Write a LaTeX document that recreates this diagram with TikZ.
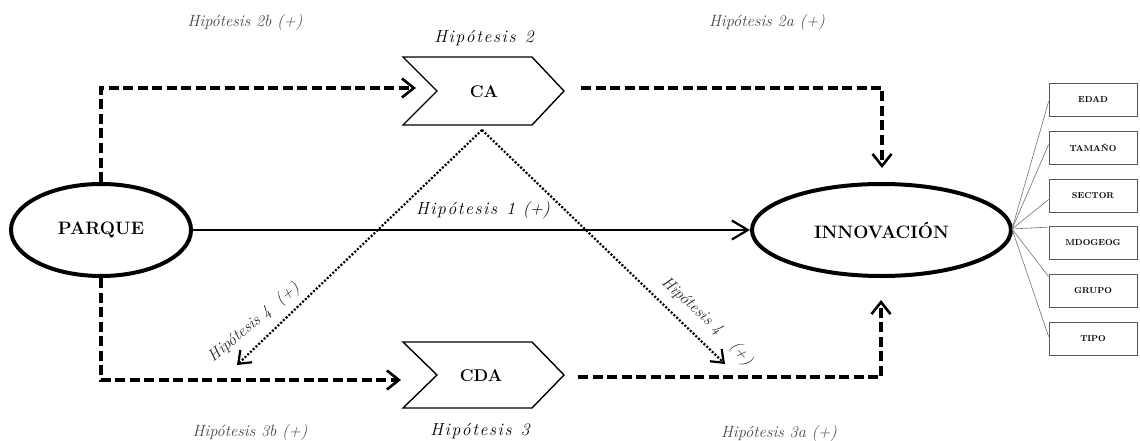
\documentclass[tikz,border=0pt]{standalone}
\usepackage{fontspec}
\usetikzlibrary{arrows.meta,shapes.geometric,calc}
\newcommand\ks{\kern1.6pt}
\begin{document}
\begin{tikzpicture}[x=1pt,y=-1pt,
  every node/.style={inner sep=0pt},
  ell/.style={ellipse, draw, line width=4pt, font=\fontsize{18}{21}\selectfont\bfseries},
  chevtext/.style={font=\fontsize{17}{20}\selectfont\bfseries},
  chevpath/.style={draw, line width=1.4pt, line join=miter},
  dashln/.style={line width=3.2pt, dash pattern=on 10pt off 4.5pt,
     -{Straight Barb[length=12pt,width=19pt,line width=2.6pt]}},
  dotln/.style={line width=2.2pt, dash pattern=on 2pt off 1.8pt,
     -{Straight Barb[length=11pt,width=17pt,line width=2.2pt]}},
  solidln/.style={line width=2.2pt, -{Straight Barb[length=16pt,width=19pt,line width=2.2pt]}},
  hyp/.style={text=black!72, font=\fontsize{16.3}{19}\selectfont\itshape},
  hypb/.style={text=black, font=\fontsize{17.5}{20}\selectfont\itshape},
  ctrl/.style={draw=black!65, line width=0.8pt, minimum width=88pt, minimum height=33pt,
     font=\fontsize{8.6}{10}\selectfont\bfseries},
  ctrlln/.style={draw=black!55, line width=0.6pt}
]
\useasboundingbox (0,0) rectangle (1140,441);

% main ellipses
\node[ell, minimum width=180pt, minimum height=92pt] (parque) at (101,230) {PARQUE};
\node[ell, minimum width=259pt, minimum height=92pt] (innov) at (881.5,230) {INNOVACIÓN};

% chevrons
\draw[chevpath] (403,57) -- (532,57) -- (564,91) -- (532,125) -- (403,125) -- (437,91) -- cycle;
\node[chevtext] (ca) at (484,92) {CA};
\draw[chevpath] (403,342) -- (532,342) -- (564,375) -- (532,408) -- (403,408) -- (437,375) -- cycle;
\node[chevtext] (cda) at (481,376) {CDA};

% connector end points
\coordinate (caIn) at (416,88);
\coordinate (caOut) at (581,88);
\coordinate (innTop) at (882,168);
\coordinate (cdaIn) at (401,380);
\coordinate (cdaOut) at (578,377);
\coordinate (innBot) at (881,300);
\coordinate (apex) at (482,130);
\coordinate (h4l) at (237,365);
\coordinate (h4r) at (725,364);

% connectors
\draw[dashln] (parque.north) |- (caIn);
\draw[dashln] (caOut) -| (innTop);
\draw[dashln] (parque.south) |- (cdaIn);
\draw[dashln] (cdaOut) -| (innBot);
\draw[solidln] (parque.east) -- (innov.west);
\draw[dotln] (apex) -- (h4l);
\draw[dotln] (apex) -- (h4r);

% labels
\node[hyp] (l2b) at (245,22) {Hipótesis 2b (+)};
\node[hyp] (l2a) at (767,22) {Hipótesis 2a (+)};
\node[hyp] (l3b) at (250,432) {Hipótesis 3b (+)};
\node[hyp] (l3a) at (779,433) {Hipótesis 3a (+)};
\node[hypb] (l2) at (484,38) {H\ks i\ks p\ks ó\ks t\ks e\ks s\ks i\ks s\ks\ \ks 2};
\node[hypb] (l3) at (480,431) {H\ks i\ks p\ks ó\ks t\ks e\ks s\ks i\ks s\ks\ \ks 3};
\node[hypb] (l1) at (483,210) {H\ks i\ks p\ks ó\ks t\ks e\ks s\ks i\ks s\ks\ \ks 1\ks\ (+)};
\node[hyp, text=black!85, rotate=40] (l4l) at (254,323) {Hipótesis 4\ \ (+)};
\node[hyp, text=black!85, rotate=-42] (l4r) at (692,306) {Hipótesis 4};
\node[hyp, text=black!85, rotate=-50] (l4rp) at (741,354) {(+)};

% control variables
\node[ctrl] (e1) at (1093,99.5) {EDAD};
\node[ctrl] (e2) at (1093,147.5) {TAMAÑO};
\node[ctrl] (e3) at (1093,195.5) {SECTOR};
\node[ctrl] (e4) at (1093,243) {MDOGEOG};
\node[ctrl] (e5) at (1093,290.5) {GRUPO};
\node[ctrl] (e6) at (1093,338.5) {TIPO};
\coordinate (src) at (1012,229);
\draw[ctrlln] (src) -- ($(e1.west)+(0,2)$);
\draw[ctrlln] (src) -- ($(e2.west)+(0,-3)$);
\draw[ctrlln] (src) -- ($(e3.west)+(0,4)$);
\draw[ctrlln] (src) -- ($(e4.north west)+(0,1)$);
\draw[ctrlln] (src) -- ($(e5.north west)+(0,3)$);
\draw[ctrlln] (src) -- ($(e6.west)+(0,-2)$);
\end{tikzpicture}
\end{document}
